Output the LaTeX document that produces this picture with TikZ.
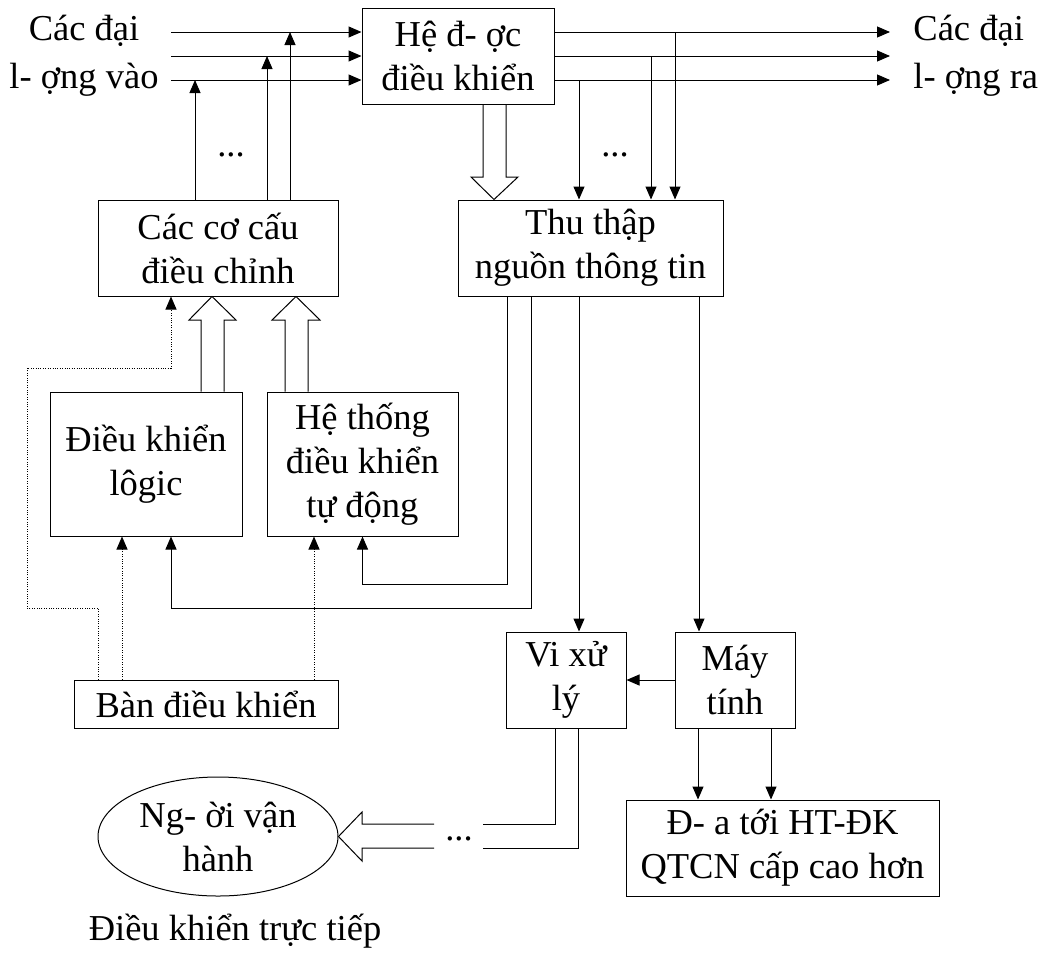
\documentclass[tikz,border=0pt]{standalone}
\usepackage{fontspec}
\setmainfont{Liberation Serif}
\usetikzlibrary{arrows.meta,calc,shapes.geometric}
\begin{document}
\begin{tikzpicture}[x=0.5pt,y=-0.5pt,
  txt/.style={font=\fontsize{18.25pt}{22pt}\selectfont},
  box/.style={txt,draw,line width=0.5pt,inner sep=0pt,align=center},
  lbl/.style={txt,inner sep=0pt,align=center},
  conn/.style={line width=0.5pt,-{Triangle[length=6.5pt,width=5.5pt]}},
  plain/.style={line width=0.5pt},
  dot/.style={line width=0.45pt,dash pattern=on 0.5pt off 0.7pt,-{Triangle[length=6.5pt,width=5.5pt]}}]
\useasboundingbox (0,0) rectangle (1048,953);

% nodes
\node[box,minimum width=96pt,minimum height=48pt] (he) at (458,56) {Hệ đ- ợc\\điều khiển};
\node[box,minimum width=120pt,minimum height=48pt] (coca) at (218,248) {Các cơ cấu\\điều chỉnh};
\node[box,minimum width=132.5pt,minimum height=48pt] (thu) at (590.5,248) {Thu thập\\nguồn thông tin};
\node[box,minimum width=96pt,minimum height=72pt] (logic) at (146,464) {Điều khiển\\lôgic};
\node[box,minimum width=95.5pt,minimum height=72pt] (htdk) at (362.5,464) {Hệ thống\\điều khiển\\tự động};
\node[box,minimum width=132pt,minimum height=24pt] (ban) at (206,704) {Bàn điều khiển};
\node[box,minimum width=60pt,minimum height=48pt] (vxl) at (566,680) {Vi xử\\lý};
\node[box,minimum width=60pt,minimum height=48pt] (may) at (735,680) {Máy\\tính};
\node[box,minimum width=156.5pt,minimum height=48pt] (dua) at (782.5,848) {Đ- a tới HT-ĐK\\QTCN cấp cao hơn};
\node[box,ellipse,minimum width=120pt,minimum height=59.5pt] (ng) at (218,836.5) {Ng- ời vận\\hành};

\node[lbl,font=\fontsize{18.25pt}{24pt}\selectfont] (inl) at (84,56) {Các đại\\l- ợng vào};
\node[lbl,font=\fontsize{18.25pt}{24pt}\selectfont,align=left,anchor=west] (outl) at (913,56) {Các đại\\l- ợng ra};
\node[lbl,anchor=base] (dk) at (235,940) {Điều khiển trực tiếp};
\node[lbl,anchor=base] (d1) at (231,156) {...};
\node[lbl,anchor=base] (d2) at (615,156) {...};
\node[lbl,anchor=base] (d3) at (459,840) {...};

% input / output lines
\coordinate (i1) at (171,32);
\coordinate (i2) at (171,56);
\coordinate (i3) at (171,80);
\coordinate (o1) at (890,32);
\coordinate (o2) at (890,56);
\coordinate (o3) at (890,80);
\draw[conn] (i1) -- (i1 -| he.west);
\draw[conn] (i2) -- (i2 -| he.west);
\draw[conn] (i3) -- (i3 -| he.west);
\draw[conn] (o1 -| he.east) -- (o1);
\draw[conn] (o2 -| he.east) -- (o2);
\draw[conn] (o3 -| he.east) -- (o3);

% actuators up to inputs
\draw[conn] (195,0 |- coca.north) -- (195,0 |- i3);
\draw[conn] (267,0 |- coca.north) -- (267,0 |- i2);
\draw[conn] (290,0 |- coca.north) -- (290,0 |- i1);

% outputs down to acquisition
\draw[conn] (579,0 |- o3) -- (579,0 |- thu.north);
\draw[conn] (651,0 |- o2) -- (651,0 |- thu.north);
\draw[conn] (675,0 |- o1) -- (675,0 |- thu.north);

% hollow arrow he -> thu
\draw[plain] (483,0 |- he.south) -- (483,177) -- (471,177) -- (494,0 |- thu.north)
  -- (518,177) -- (506,177) -- (506,0 |- he.south);

% hollow arrows up to coca
\draw[plain] (201,0 |- logic.north) -- (201,320) -- (189,320) -- (212,0 |- coca.south)
  -- (236,320) -- (224,320) -- (224,0 |- logic.north);
\draw[plain] (285,0 |- htdk.north) -- (285,320) -- (272,320) -- (296,0 |- coca.south)
  -- (320,320) -- (308,320) -- (308,0 |- htdk.north);

% feedback from thu
\draw[conn] (507,0 |- thu.south) |- (362.5,584) -- (htdk.south);
\draw[conn] (531,0 |- thu.south) |- (171,608) -- (171,0 |- logic.south);
\draw[conn] (579,0 |- thu.south) -- (579,0 |- vxl.north);
\draw[conn] (699,0 |- thu.south) -- (699,0 |- may.north);

% computer
\draw[conn] (may.west) -- (vxl.east);
\draw[conn] (698,0 |- may.south) -- (698,0 |- dua.north);
\draw[conn] (771,0 |- may.south) -- (771,0 |- dua.north);

% vxl to operator (hollow arrow)
\draw[plain] (555,0 |- vxl.south) |- (483,824);
\draw[plain] (578,0 |- vxl.south) |- (483,848);
\draw[plain] (434,824) -- (362,824) -- (362,812) -- (ng.east) -- (362,861) -- (362,848) -- (434,848);

% dotted from console
\draw[dot] (98,0 |- ban.north) -- (98,608) -- (27,608) -- (27,368) -- (171,368) -- (171,0 |- coca.south);
\draw[dot] (122,0 |- ban.north) -- (122,0 |- logic.south);
\draw[dot] (314,0 |- ban.north) -- (314,0 |- htdk.south);
\end{tikzpicture}
\end{document}
